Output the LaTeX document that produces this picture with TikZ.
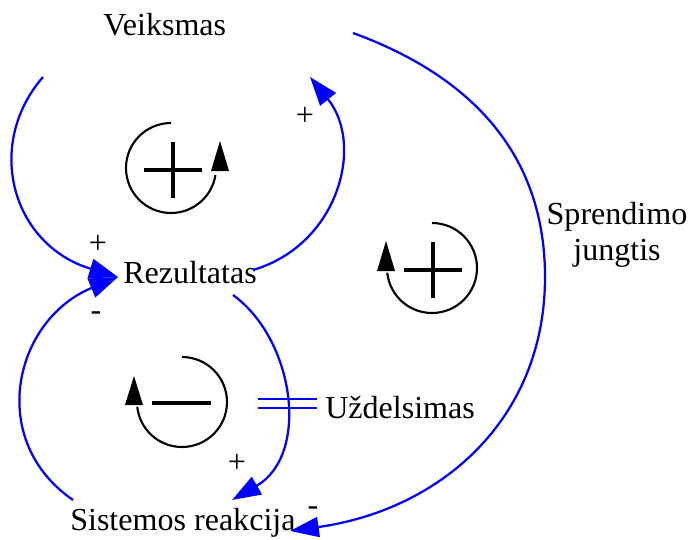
\documentclass[tikz,border=0pt]{standalone}
\usepackage{fontspec}
\setmainfont{Liberation Serif}
\usetikzlibrary{arrows.meta}

\begin{document}
\begin{tikzpicture}[x=0.025cm, y=-0.025cm,
  lbl/.style={inner sep=0pt, anchor=base west, font=\fontsize{22.8}{25.6}\selectfont},
  sgn/.style={inner sep=0pt, anchor=base, font=\fontsize{22.8}{25.6}\selectfont},
  link/.style={blue, line width=1.6pt, -{Triangle[length=0.72cm, width=0.5cm]}},
  loopline/.style={black, line width=1.5pt},
  loopsign/.style={black, line width=2.8pt}]
\useasboundingbox (0,0) rectangle (690,539);
\node[lbl] (veiksmas) at (103,35) {Veiksmas};
\node[lbl] (rezultatas) at (123,283) {Rezultatas};
\node[lbl] (reakcija) at (70,530) {Sistemos reakcija};
\node[lbl] (delay) at (325,418) {Uždelsimas};
\node[sgn, align=center] (jungtis) at (617,260) {Sprendimo\\jungtis};
\coordinate (vk-a) at (43,77); \coordinate (rz-a) at (118,277);
\coordinate (rz-b) at (253,270); \coordinate (vk-b) at (310,77);
\coordinate (rz-c) at (233,295); \coordinate (sr-a) at (232,500);
\coordinate (sr-b) at (73,500); \coordinate (vk-c) at (353,33);
\coordinate (rim) at (545,277); \coordinate (sr-c) at (290,531);
\draw[link] (vk-a) .. controls (-16,145) and (12,245) .. (rz-a);
\draw[link] (sr-b) .. controls (-14,440) and (14,320) .. (rz-a);
\draw[link] (rz-b) .. controls (338,245) and (365,145) .. (vk-b);
\draw[link] (rz-c) .. controls (295,340) and (310,455) .. (sr-a);
\draw[link] (vk-c) .. controls (460,72) and (545,145) .. (rim) .. controls (545,420) and (440,510) .. (sr-c);
\draw[blue, line width=1.6pt] (258,399) -- (317,399) (258,408) -- (317,408);
\node[sgn] (p-top) at (305,125) {+}; \node[sgn] (p-rz) at (98,253) {+};
\node[sgn] (m-rz) at (96,320) {-}; \node[sgn] (p-sr) at (237,472) {+};
\node[sgn] (m-sr) at (313,515) {-};
\draw[loopline] (171,123) arc[start angle=270, end angle=9, radius=45];
\fill (220,141) -- (211,171) -- (229,171) -- cycle;
\draw[loopsign] (144,170) -- (202,170) (173,142) -- (173,198);
\draw[loopline] (432,223) arc[start angle=270, end angle=534, radius=45];
\fill (386,241) -- (377,271) -- (395,271) -- cycle;
\draw[loopsign] (404,270) -- (462,270) (433,242) -- (433,298);
\draw[loopline] (182,357) arc[start angle=270, end angle=534, radius=45];
\fill (134,376) -- (125,405) -- (143,405) -- cycle;
\draw[loopsign] (152,403) -- (211,403);
\end{tikzpicture}
\end{document}
